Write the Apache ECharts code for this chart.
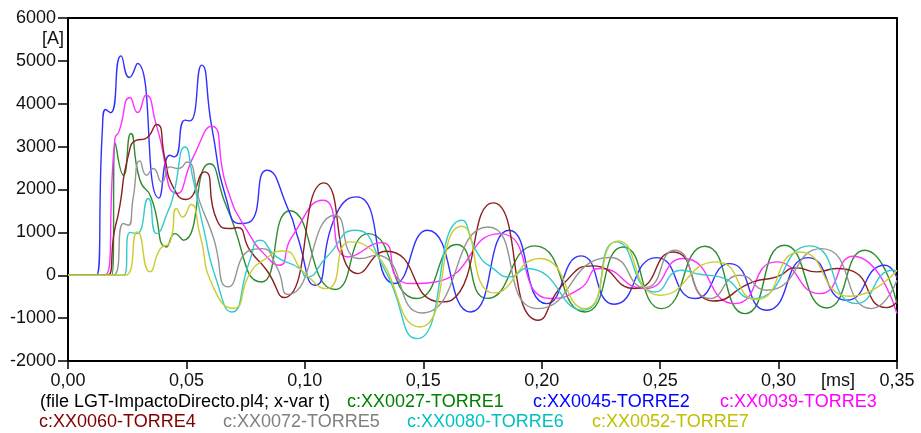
<!DOCTYPE html>
<html>
<head>
<meta charset="utf-8">
<script src="https://cdn.jsdelivr.net/npm/echarts@6/dist/echarts.min.js"></script>
<style>
  html, body { margin: 0; padding: 0; background: #fff; }
  #chart { width: 921px; height: 433px; }
</style>
</head>
<body>
<div id="chart"></div>
<script>
// Tower currents, direct lightning strike (time in ms, current in A)
const fileNote = '(file LGT-ImpactoDirecto.pl4; x-var t)';
const seriesNames = ['c:XX0027-TORRE1', 'c:XX0045-TORRE2', 'c:XX0039-TORRE3',
  'c:XX0060-TORRE4', 'c:XX0072-TORRE5', 'c:XX0080-TORRE6', 'c:XX0052-TORRE7'];

const torre1T = [0, 0.0185, 0.0200, 0.0234, 0.0265, 0.0304, 0.035, 0.0417, 0.0452, 0.0487, 0.0597, 0.067, 0.0818, 0.0937, 0.1127, 0.1268, 0.1472, 0.1641, 0.177, 0.1971, 0.2182, 0.2344, 0.2506, 0.2689, 0.2858, 0.3024, 0.3203, 0.3364, 0.35];
const torre1V = [0, 0, 3080, 2333, 3306, 2216, 1827, 660, 972, 817, 2600, 1593, -156, 1505, -334, 972, -544, 716, -540, 684, -856, 660, -778, 677, -894, 700, -763, 583, -661];

const torre2T = [0, 0.012, 0.0145, 0.0159, 0.018, 0.0224, 0.0259, 0.0293, 0.0384, 0.043, 0.045, 0.0494, 0.0515, 0.0564, 0.0607, 0.067, 0.0726, 0.0768, 0.0839, 0.0937, 0.0965, 0.1043, 0.1134, 0.1219, 0.138, 0.1517, 0.17, 0.1863, 0.2021, 0.2166, 0.2306, 0.2485, 0.2647, 0.2794, 0.2949, 0.3125, 0.3287, 0.3449, 0.35];
const torre2V = [0, 0, 3383, 3866, 3790, 5117, 4612, 4940, 1800, 2800, 2760, 3617, 3600, 4900, 3460, 1750, 1206, 1244, 2450, 1446, 973, -233, 1440, 1827, -194, 1050, -856, 1050, -661, 451, -677, 412, -544, 272, -817, 412, -583, 233, -60];

const torre3T = [0, 0.0155, 0.0198, 0.0215, 0.0262, 0.0294, 0.0329, 0.0375, 0.0461, 0.0529, 0.0606, 0.067, 0.0755, 0.0853, 0.0892, 0.0945, 0.1078, 0.1183, 0.1324, 0.140, 0.1462, 0.155, 0.1824, 0.2035, 0.2162, 0.2246, 0.2436, 0.2597, 0.2816, 0.2991, 0.3174, 0.3315, 0.35];
const torre3V = [0, 0, 3190, 3350, 4146, 3795, 4200, 3460, 1906, 2760, 3476, 2060, 1050, 350, 233, 893, 1750, 427, 762, -117, -194, -156, 972, -544, -311, 156, -311, 389, -661, 311, -428, 443, -894];

const torre4T = [0, 0.0167, 0.0195, 0.0215, 0.0255, 0.029, 0.0325, 0.0374, 0.041, 0.044, 0.0498, 0.0575, 0.0629, 0.0685, 0.0715, 0.0768, 0.0839, 0.0912, 0.1081, 0.1225, 0.1345, 0.1577, 0.162, 0.1795, 0.1985, 0.2093, 0.2217, 0.2393, 0.2555, 0.2724, 0.2893, 0.2992, 0.3076, 0.316, 0.3245, 0.330, 0.3456, 0.35];
const torre4V = [0, 0, 1000, 1500, 2800, 3150, 3180, 3516, 2700, 2100, 1766, 2410, 1283, 1090, 1113, 583, 117, -520, 2154, 39, 560, -622, -580, 1687, -1050, -194, 218, -311, 544, -600, -156, -39, 171, 78, 156, 120, -754, -622];

const torre5T = [0, 0.0191, 0.0234, 0.0255, 0.0275, 0.0304, 0.0332, 0.036, 0.0396, 0.0431, 0.0466, 0.0501, 0.0557, 0.0613, 0.0677, 0.0768, 0.0818, 0.0881, 0.093, 0.1127, 0.1203, 0.1232, 0.1302, 0.1493, 0.1774, 0.1985, 0.2288, 0.2436, 0.2562, 0.271, 0.2837, 0.2949, 0.3181, 0.3393, 0.35];
const torre5V = [0, 0, 1206, 1167, 1800, 2667, 2333, 2489, 2177, 2527, 2489, 2640, 1700, 893, -272, 583, 622, 194, -450, 1400, 427, 389, 467, -879, 1127, -778, 415, -288, 583, -544, 0, -350, 622, -778, -117];

const torre6T = [0, 0.0234, 0.0262, 0.029, 0.0339, 0.0374, 0.0424, 0.0445, 0.0494, 0.0529, 0.0571, 0.0627, 0.0691, 0.0768, 0.081, 0.0881, 0.0979, 0.1007, 0.1092, 0.1211, 0.1331, 0.1475, 0.1662, 0.173, 0.1795, 0.1866, 0.1936, 0.2175, 0.2316, 0.2478, 0.259, 0.2667, 0.2752, 0.2893, 0.3132, 0.3329, 0.3484, 0.35];
const torre6V = [0, 0, 1000, 972, 1789, 972, 1517, 1866, 2993, 2216, 1127, -117, -856, 350, 817, 427, 156, -39, 427, 1050, 194, -1477, 1283, 505, 156, -39, 156, -817, 778, -389, 117, 23, -39, -544, 684, -661, 117, 100];

const torre7T = [0, 0.0241, 0.0293, 0.0346, 0.039, 0.0431, 0.0459, 0.0484, 0.0519, 0.0557, 0.0613, 0.0698, 0.0768, 0.0825, 0.0909, 0.1, 0.1092, 0.119, 0.1262, 0.1486, 0.1662, 0.18, 0.1992, 0.2182, 0.2323, 0.2499, 0.2738, 0.2907, 0.309, 0.3301, 0.35];
const torre7V = [0, 0, 1011, 78, 622, 778, 1556, 1360, 1649, 950, -272, -770, 39, 350, 567, 39, -311, 778, 677, -1206, 1143, -412, 389, -778, 801, -467, 311, -567, 544, -490, 117];

const lineColors = ['#2e8b2e', '#3030ff', '#ff30ff', '#8b1e1e', '#959595', '#30cccc', '#cccc30'];
const textColors = ['#008000', '#0000ff', '#ff00ff', '#800000', '#808080', '#00c0c0', '#c0c000'];

const seriesT = [torre1T, torre2T, torre3T, torre4T, torre5T, torre6T, torre7T];
const seriesV = [torre1V, torre2V, torre3V, torre4V, torre5V, torre6V, torre7V];

const chart = echarts.init(document.getElementById('chart'), null, { renderer: 'canvas' });

const series = seriesNames.map((name, i) => ({
  name: name,
  type: 'line',
  data: seriesT[i].map((t, k) => [t, seriesV[i][k]]),
  showSymbol: false,
  smooth: 0.6,
  lineStyle: { color: lineColors[i], width: 1.4 },
  itemStyle: { color: lineColors[i] },
  z: 2 + i
}));

const baseFont = '"Liberation Sans", Arial, sans-serif';
const labelFont = { fontFamily: baseFont, fontSize: 18, color: '#111' };

// Legend rows as coloured text lines under the x axis
const legendRow1 = [
  { text: fileNote, x: 40, color: '#000' },
  { text: seriesNames[0], x: 347, color: textColors[0] },
  { text: seriesNames[1], x: 533, color: textColors[1] },
  { text: seriesNames[2], x: 720, color: textColors[2] }
];
const legendRow2 = [
  { text: seriesNames[3], x: 39, color: textColors[3] },
  { text: seriesNames[4], x: 223, color: textColors[4] },
  { text: seriesNames[5], x: 407, color: textColors[5] },
  { text: seriesNames[6], x: 592, color: textColors[6] }
];
const legendFont = '18px ' + baseFont;
const graphics = [];
legendRow1.forEach(it => graphics.push({
  type: 'text', left: it.x, top: 393,
  style: { text: it.text, fill: it.color, font: legendFont }
}));
legendRow2.forEach(it => graphics.push({
  type: 'text', left: it.x, top: 413,
  style: { text: it.text, fill: it.color, font: legendFont }
}));
graphics.push({
  type: 'text', left: 42, top: 30,
  style: { text: '[A]', fill: '#111', font: '18px ' + baseFont }
});
graphics.push({
  type: 'text', left: 821, top: 372,
  style: { text: '[ms]', fill: '#111', font: '18px ' + baseFont }
});

chart.setOption({
  backgroundColor: '#fff',
  animation: false,
  grid: { left: 68, right: 24, top: 18, bottom: 72, show: true, borderColor: '#000', borderWidth: 2 },
  xAxis: {
    type: 'value', min: 0, max: 0.35, interval: 0.05,
    axisLine: { show: true, onZero: false, lineStyle: { color: '#000', width: 2 } },
    axisTick: { show: true, inside: false, length: 8, lineStyle: { color: '#000', width: 1.5 } },
    splitLine: { show: false },
    axisLabel: Object.assign({ margin: 11, formatter: v => v.toFixed(2).replace('.', ',') }, labelFont)
  },
  yAxis: {
    type: 'value', min: -2000, max: 6000, interval: 1000,
    axisLine: { show: true, lineStyle: { color: '#000', width: 2 } },
    axisTick: { show: true, inside: false, length: 10, lineStyle: { color: '#000', width: 1.5 } },
    splitLine: { show: false },
    axisLabel: Object.assign({ margin: 12, formatter: v => String(v) }, labelFont)
  },
  graphic: graphics,
  series: series
});
</script>
</body>
</html>
